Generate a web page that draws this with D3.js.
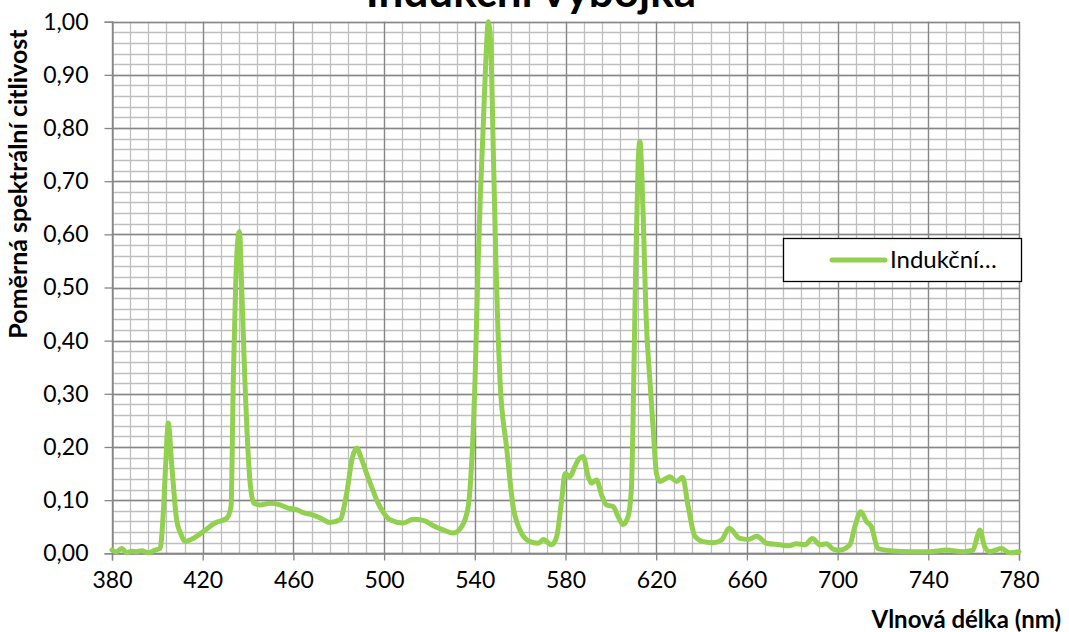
<!DOCTYPE html>
<html>
<head>
<meta charset="utf-8">
<script src="https://cdn.jsdelivr.net/npm/d3@7"></script>
<style>
  body { margin: 0; background: #fff; }
  text { font-family: Lato, "Open Sans", sans-serif; fill: #000; }
</style>
</head>
<body>
<div id="chart"></div>
<script>
// wavelengths (nm) and relative values
const wavelengths = [380, 382, 384.3, 386.5, 388.5, 390.9, 393.1, 396, 399, 401.2, 402.6, 403.7, 404.8, 406.3, 408.5, 410.5, 412.2, 415.8, 420.3, 425.4, 430.6, 432.5, 433.5, 434.5, 435.5, 436.2, 437.2, 438.6, 440.8, 442.6, 445.3, 449.7, 454.1, 457.7, 461.4, 464, 468.8, 472.5, 476.1, 480.5, 483.5, 486, 487.9, 490, 492.3, 494.5, 497.4, 500, 502.6, 508.4, 512.9, 517.3, 521.7, 526.1, 530.5, 534.2, 537.1, 538.6, 540.1, 541.5, 542.5, 543.5, 544.8, 546, 547, 548.2, 549.3, 550.2, 551.1, 554, 556.9, 559.9, 564.3, 568, 570.2, 573.9, 576.1, 578.3, 579.8, 582, 584.1, 586, 587.8, 590, 591.5, 593.7, 595.9, 598.1, 601, 603.2, 605.4, 607.6, 609.1, 610.1, 611, 612, 612.8, 613.6, 614.5, 615.5, 617.2, 618.7, 620.1, 621.6, 624, 626, 629, 631.6, 634.1, 637.1, 640.7, 645.2, 648.8, 652.2, 656.9, 660.6, 664.3, 668.7, 674.5, 678.2, 681.9, 685.6, 688.9, 692.2, 695.1, 698, 701, 705.4, 707.6, 710.2, 712.7, 714.9, 717.8, 723, 733.3, 740.6, 748, 755.3, 759.7, 761.5, 762.7, 764.9, 767.1, 772.3, 776, 780];
const values = [0.006, 0.003, 0.009, 0.001, 0.004, 0.003, 0.005, 0.001, 0.006, 0.009, 0.075, 0.169, 0.245, 0.169, 0.063, 0.035, 0.022, 0.028, 0.041, 0.057, 0.066, 0.088, 0.326, 0.5, 0.59, 0.605, 0.5, 0.326, 0.138, 0.094, 0.091, 0.094, 0.091, 0.085, 0.082, 0.077, 0.072, 0.065, 0.058, 0.063, 0.113, 0.18, 0.198, 0.178, 0.15, 0.125, 0.094, 0.075, 0.063, 0.057, 0.064, 0.062, 0.052, 0.044, 0.038, 0.05, 0.088, 0.169, 0.326, 0.55, 0.68, 0.78, 0.92, 1.0, 0.96, 0.75, 0.55, 0.42, 0.326, 0.2, 0.088, 0.044, 0.022, 0.019, 0.026, 0.016, 0.031, 0.1, 0.15, 0.144, 0.163, 0.178, 0.182, 0.144, 0.132, 0.138, 0.11, 0.091, 0.088, 0.069, 0.054, 0.069, 0.125, 0.326, 0.55, 0.73, 0.775, 0.72, 0.6, 0.45, 0.326, 0.232, 0.15, 0.135, 0.14, 0.144, 0.135, 0.143, 0.088, 0.032, 0.022, 0.02, 0.025, 0.047, 0.028, 0.026, 0.032, 0.019, 0.016, 0.014, 0.018, 0.016, 0.028, 0.016, 0.018, 0.008, 0.006, 0.016, 0.05, 0.078, 0.06, 0.05, 0.009, 0.005, 0.003, 0.003, 0.006, 0.003, 0.006, 0.03, 0.044, 0.012, 0.003, 0.009, 0.001, 0.003];

const xTicks = [380, 420, 460, 500, 540, 580, 620, 660, 700, 740, 780];
const yTicks = [0, 0.1, 0.2, 0.3, 0.4, 0.5, 0.6, 0.7, 0.8, 0.9, 1.0];
const seriesName = "Indukční…";
const title = "Indukční výbojka";

let width = 1069,
    height = 632;
const margin = {left: 112, right: 50, top: 21.7, bottom: 78.7};

const svg = d3.select("#chart").append("svg")
    .attr("width", width)
    .attr("height", height);

const x = d3.scaleLinear().domain([380, 780]).range([margin.left, width - margin.right]);
const y = d3.scaleLinear().domain([0, 1]).range([height - margin.bottom, margin.top]);

const fmt = d => d3.format(".2f")(d).replace(".", ",");

// minor grid
const xMinor = d3.range(380, 781, 8);
const yMinor = d3.range(0, 1.0001, 0.02);
svg.append("g").selectAll("line").data(xMinor).enter().append("line")
    .attr("x1", d => Math.round(x(d)) + 0.5).attr("x2", d => Math.round(x(d)) + 0.5)
    .attr("y1", y(0)).attr("y2", y(1))
    .attr("stroke", "#bfbfbf").attr("stroke-width", 1.3);
svg.append("g").selectAll("line").data(yMinor).enter().append("line")
    .attr("y1", d => Math.round(y(d)) + 0.5).attr("y2", d => Math.round(y(d)) + 0.5)
    .attr("x1", x(380)).attr("x2", x(780))
    .attr("stroke", "#bfbfbf").attr("stroke-width", 1.3);

// major grid
svg.append("g").selectAll("line").data(xTicks).enter().append("line")
    .attr("x1", d => Math.round(x(d)) + 0.5).attr("x2", d => Math.round(x(d)) + 0.5)
    .attr("y1", y(0)).attr("y2", y(1))
    .attr("stroke", "#878787").attr("stroke-width", 1.3);
svg.append("g").selectAll("line").data(yTicks).enter().append("line")
    .attr("y1", d => Math.round(y(d)) + 0.5).attr("y2", d => Math.round(y(d)) + 0.5)
    .attr("x1", x(380)).attr("x2", x(780))
    .attr("stroke", "#878787").attr("stroke-width", 1.3);

// axes
const xAxis = svg.append("g")
    .attr("transform", "translate(0," + (Math.round(y(0)) + 0.5) + ")")
    .call(d3.axisBottom(x).tickValues(xTicks).tickSize(7).tickPadding(11).tickFormat(d3.format("d")));
const yAxis = svg.append("g")
    .attr("transform", "translate(" + (Math.round(x(380)) + 0.5) + ",0)")
    .call(d3.axisLeft(y).tickValues(yTicks).tickSize(8).tickPadding(16).tickFormat(fmt));
[xAxis, yAxis].forEach(a => {
  a.selectAll("path, line").attr("stroke", "#878787").attr("stroke-width", 1.3);
  a.selectAll("text").style("font-size", "23px").style("font-family", "Lato, sans-serif").attr("fill", "#000");
});
xAxis.selectAll("text").attr("dy", "0.71em");

// the spectrum
const line = d3.line()
    .x((d, i) => x(wavelengths[i]))
    .y(d => y(d))
    .curve(d3.curveMonotoneX);

svg.append("path")
    .datum(values)
    .attr("d", line)
    .attr("fill", "none")
    .attr("stroke", "#92d050")
    .attr("stroke-width", 5)
    .attr("stroke-linejoin", "round")
    .attr("stroke-linecap", "round");

// titles
svg.append("text")
    .attr("x", 531).attr("y", 7)
    .attr("text-anchor", "middle")
    .style("font-size", "44px").style("font-weight", "bold")
    .text(title);

svg.append("text")
    .attr("x", 1061).attr("y", 628)
    .attr("text-anchor", "end")
    .style("font-size", "24px").style("font-weight", "bold")
    .text("Vlnová délka (nm)");

svg.append("text")
    .attr("transform", "translate(27,184) rotate(-90)")
    .attr("text-anchor", "middle")
    .style("font-size", "25px").style("font-weight", "bold")
    .text("Poměrná spektrální citlivost");

// legend
const legend = svg.append("g");
legend.append("rect")
    .attr("x", 783.5).attr("y", 238.5).attr("width", 238).attr("height", 43)
    .attr("fill", "#fff").attr("stroke", "#000").attr("stroke-width", 1.3);
legend.append("line")
    .attr("x1", 832).attr("x2", 885).attr("y1", 260).attr("y2", 260)
    .attr("stroke", "#92d050").attr("stroke-width", 5).attr("stroke-linecap", "round");
legend.append("text")
    .attr("x", 890).attr("y", 268)
    .style("font-size", "24px")
    .text(seriesName);
</script>
</body>
</html>
